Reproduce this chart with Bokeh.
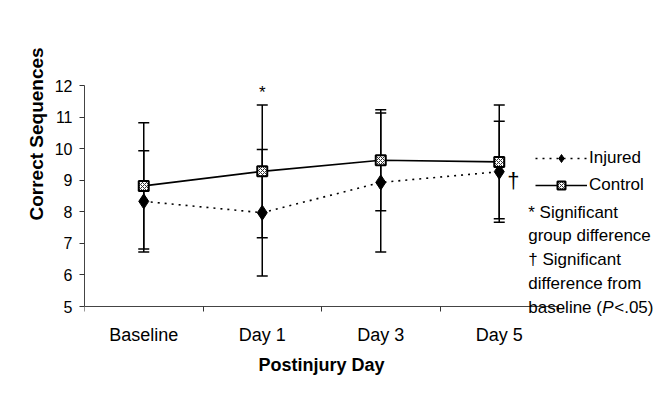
from bokeh.plotting import figure
from bokeh.models import (ColumnDataSource, Range1d, FixedTicker, Whisker, TeeHead,
                          Legend, LegendItem, Label, Title)
from bokeh.embed import file_html
from bokeh.resources import INLINE

# ---- data ----
days = ["Baseline", "Day 1", "Day 3", "Day 5"]
injured = [8.33, 7.97, 8.93, 9.27]
injured_err = [1.60, 2.00, 2.20, 1.60]
control = [8.82, 9.28, 9.63, 9.58]
control_err = [2.00, 2.10, 1.60, 1.80]
y_ticks = [5, 6, 7, 8, 9, 10, 11, 12]

xs = [i + 0.5 for i in range(len(days))]
bounds = list(range(len(days) + 1))

FONT = "Liberation Sans"

# layout (pixels)
W, H = 663, 393
LEFT, TOP, BOTTOM = 84, 85, 2
AXIS_PX = 474      # width of the x axis in pixels
AXIS_PY = 221      # height of the y axis in pixels
PAD = H - TOP - AXIS_PY - BOTTOM   # frame space below the x axis (labels, notes)
frame_w = W - LEFT
x_end = len(days) * frame_w / AXIS_PX
y_lo, y_hi = min(y_ticks), max(y_ticks)
y_start = y_lo - PAD * (y_hi - y_lo) / AXIS_PY

src_i = ColumnDataSource(dict(x=xs, y=injured,
                              lo=[v - e for v, e in zip(injured, injured_err)],
                              hi=[v + e for v, e in zip(injured, injured_err)]))
src_c = ColumnDataSource(dict(x=xs, y=control,
                              lo=[v - e for v, e in zip(control, control_err)],
                              hi=[v + e for v, e in zip(control, control_err)]))

p = figure(width=W, height=H, output_backend="svg", toolbar_location=None,
           x_range=Range1d(0, x_end), y_range=Range1d(y_start, y_hi),
           min_border_left=LEFT, min_border_right=0, min_border_top=TOP,
           min_border_bottom=BOTTOM)
p.outline_line_color = None
p.xgrid.visible = False
p.ygrid.visible = False
p.background_fill_color = "white"
p.border_fill_color = "white"

# x axis
xa = p.xaxis[0]
xa.fixed_location = y_lo
xa.bounds = (0, len(days))
xa.ticker = FixedTicker(ticks=xs, minor_ticks=bounds)
xa.major_label_overrides = {x: d for x, d in zip(xs, days)}
xa.major_tick_out = 0
xa.major_tick_in = 0
xa.minor_tick_out = 5
xa.minor_tick_in = 0
xa.minor_tick_line_color = "#333"
xa.axis_line_color = "#444"
xa.major_label_standoff = 13
xa.major_label_text_font = FONT
xa.major_label_text_font_size = "18px"
xa.major_label_text_color = "black"
xa.axis_label = "Postinjury Day"
xa.axis_label_text_font = FONT
xa.axis_label_text_font_size = "18px"
xa.axis_label_text_font_style = "bold"
xa.axis_label_text_color = "black"
xa.axis_label_standoff = 7

# y axis
ya = p.yaxis[0]
ya.bounds = (y_lo, y_hi)
ya.ticker = FixedTicker(ticks=y_ticks)
ya.major_tick_out = 5
ya.major_tick_in = 0
ya.minor_tick_line_color = None
ya.major_tick_line_color = "#333"
ya.axis_line_color = "#444"
ya.major_label_standoff = 7
ya.major_label_text_font = FONT
ya.major_label_text_font_size = "16px"
ya.major_label_text_color = "black"

# y axis title, placed along the 5-12 span of the axis
y_title = Title(text="Correct Sequences", align="left", offset=PAD + 86,
                text_font=FONT, text_font_size="19px", text_font_style="bold",
                text_color="black", standoff=10)
p.add_layout(y_title, "left")

# error bars
for src in (src_i, src_c):
    w = Whisker(source=src, base="x", upper="hi", lower="lo", level="underlay",
                line_color="black", line_width=1.5,
                upper_head=TeeHead(size=11, line_color="black", line_width=1.5),
                lower_head=TeeHead(size=11, line_color="black", line_width=1.5))
    p.add_layout(w)

# lines and markers
li = p.line("x", "y", source=src_i, line_color="black", line_width=1.6, line_dash="2 5")
lc = p.line("x", "y", source=src_c, line_color="black", line_width=1.6)
mi = p.scatter("x", "y", source=src_i, marker="diamond", size=15,
               fill_color="black", line_color="black")
mc = p.scatter("x", "y", source=src_c, marker="square", size=10,
               fill_color="white", line_color="black", line_width=2,
               hatch_pattern="x", hatch_color="#333", hatch_scale=4, hatch_weight=1)

legend = Legend(items=[LegendItem(label="Injured", renderers=[li, mi]),
                       LegendItem(label="Control", renderers=[lc, mc])],
                location=(451, 111 + PAD), orientation="vertical",
                glyph_width=52, glyph_height=20, label_standoff=2, spacing=7,
                padding=0, margin=0, border_line_color=None,
                background_fill_alpha=0,
                label_text_font=FONT, label_text_font_size="17px",
                label_text_color="black")
p.add_layout(legend)

# significance marks
p.add_layout(Label(x=xs[1], y=control[1] + control_err[1], text="*",
                   text_align="center", text_baseline="alphabetic", y_offset=13,
                   text_font=FONT, text_font_size="17px", text_color="black"))
p.add_layout(Label(x=xs[3], y=injured[3], text="\u2020", x_offset=8, y_offset=-9,
                   text_align="left", text_baseline="middle",
                   text_font=FONT, text_font_size="22px", text_color="black"))

# footnotes
notes = ["* Significant", "group difference", "\u2020 Significant", "difference from"]
offs = [94, 71, 47, 23]
for t, o in zip(notes, offs):
    p.add_layout(Label(x=xs[-1], y=y_lo, text=t, x_offset=29, y_offset=o,
                       text_align="left", text_baseline="alphabetic",
                       text_font=FONT, text_font_size="17px", text_color="black"))
last = [("baseline (", "normal", 29), ("P", "italic", 103), ("<.05)", "normal", 115)]
for t, st, xo in last:
    p.add_layout(Label(x=xs[-1], y=y_lo, text=t, x_offset=xo, y_offset=-1,
                       text_align="left", text_baseline="alphabetic",
                       text_font=FONT, text_font_size="17px", text_font_style=st,
                       text_color="black"))

open("out.html", "w").write(file_html(p, INLINE))
